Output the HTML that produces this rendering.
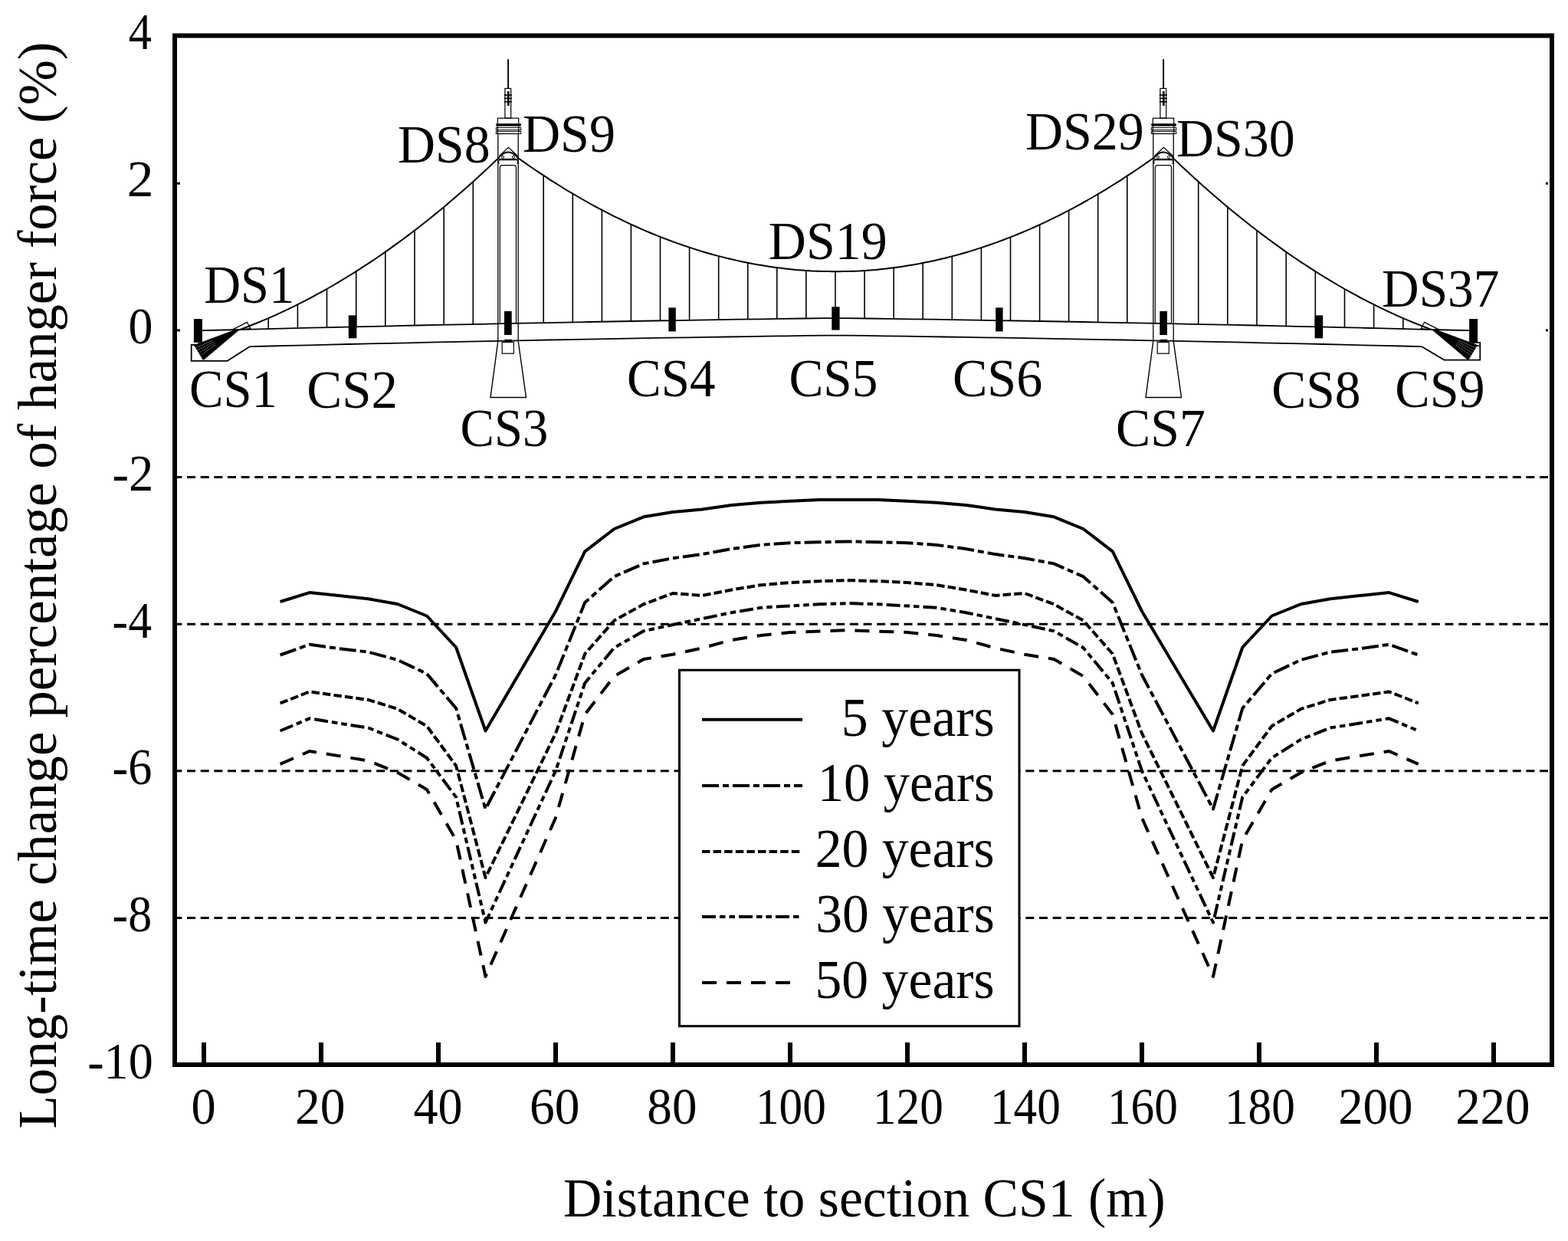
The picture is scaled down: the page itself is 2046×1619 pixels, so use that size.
<!DOCTYPE html>
<html><head><meta charset="utf-8"><title>Long-time change percentage of hanger force</title>
<style>html,body{margin:0;padding:0;background:#fff;width:2046px;height:1619px;overflow:hidden}</style>
</head><body>
<svg width="2046" height="1619" viewBox="0 0 2046 1619" style="position:absolute;left:0;top:0">
<rect x="0" y="0" width="2046" height="1619" fill="#fff"/>
<g font-family='"Liberation Serif", "Times New Roman", serif' fill="#000">
<line x1="226.4" y1="622.54" x2="2020" y2="622.54" stroke="#000" stroke-width="3" stroke-dasharray="11 6.65" stroke-dashoffset="0"/>
<line x1="226.4" y1="814.18" x2="2020" y2="814.18" stroke="#000" stroke-width="3" stroke-dasharray="11 6.65" stroke-dashoffset="0"/>
<line x1="226.4" y1="1005.82" x2="2020" y2="1005.82" stroke="#000" stroke-width="3" stroke-dasharray="11 6.65" stroke-dashoffset="0"/>
<line x1="226.4" y1="1197.46" x2="2020" y2="1197.46" stroke="#000" stroke-width="3" stroke-dasharray="11 6.65" stroke-dashoffset="0"/>
<rect x="231" y="237.76" width="4" height="3" fill="#000"/>
<rect x="2017" y="237.76" width="3" height="3" fill="#000"/>
<rect x="231" y="429.40" width="4" height="3" fill="#000"/>
<rect x="2017" y="429.40" width="3" height="3" fill="#000"/>
<rect x="228" y="46.5" width="1797" height="1342.5" fill="none" stroke="#000" stroke-width="6"/>
<rect x="263.00" y="1360" width="6" height="28" fill="#000"/>
<rect x="416.00" y="1360" width="6" height="28" fill="#000"/>
<rect x="569.00" y="1360" width="6" height="28" fill="#000"/>
<rect x="722.00" y="1360" width="6" height="28" fill="#000"/>
<rect x="875.00" y="1360" width="6" height="28" fill="#000"/>
<rect x="1028.00" y="1360" width="6" height="28" fill="#000"/>
<rect x="1181.00" y="1360" width="6" height="28" fill="#000"/>
<rect x="1334.00" y="1360" width="6" height="28" fill="#000"/>
<rect x="1487.00" y="1360" width="6" height="28" fill="#000"/>
<rect x="1640.00" y="1360" width="6" height="28" fill="#000"/>
<rect x="1793.00" y="1360" width="6" height="28" fill="#000"/>
<rect x="1946.00" y="1360" width="6" height="28" fill="#000"/>
<text x="167.79" y="64.10" font-size="67" textLength="30.17" lengthAdjust="spacingAndGlyphs" >4</text>
<text x="165.84" y="255.90" font-size="67" textLength="34.79" lengthAdjust="spacingAndGlyphs" >2</text>
<text x="167.47" y="448.20" font-size="67" textLength="31.96" lengthAdjust="spacingAndGlyphs" >0</text>
<text x="146.51" y="639.90" font-size="67" textLength="53.85" lengthAdjust="spacingAndGlyphs" >-2</text>
<text x="146.62" y="831.50" font-size="67" textLength="51.37" lengthAdjust="spacingAndGlyphs" >-4</text>
<text x="146.60" y="1023.10" font-size="67" textLength="51.87" lengthAdjust="spacingAndGlyphs" >-6</text>
<text x="146.61" y="1215.20" font-size="67" textLength="51.54" lengthAdjust="spacingAndGlyphs" >-8</text>
<text x="114.23" y="1407.20" font-size="67" textLength="85.51" lengthAdjust="spacingAndGlyphs" >-10</text>
<text x="249.40" y="1466.20" font-size="67" textLength="32.19" lengthAdjust="spacingAndGlyphs" >0</text>
<text x="384.91" y="1466.20" font-size="67" textLength="65.58" lengthAdjust="spacingAndGlyphs" >20</text>
<text x="539.52" y="1466.20" font-size="67" textLength="63.91" lengthAdjust="spacingAndGlyphs" >40</text>
<text x="690.98" y="1466.20" font-size="67" textLength="65.51" lengthAdjust="spacingAndGlyphs" >60</text>
<text x="844.32" y="1466.20" font-size="67" textLength="65.15" lengthAdjust="spacingAndGlyphs" >80</text>
<text x="985.91" y="1466.20" font-size="67" textLength="91.92" lengthAdjust="spacingAndGlyphs" >100</text>
<text x="1138.91" y="1466.20" font-size="67" textLength="91.92" lengthAdjust="spacingAndGlyphs" >120</text>
<text x="1291.91" y="1466.20" font-size="67" textLength="91.92" lengthAdjust="spacingAndGlyphs" >140</text>
<text x="1444.91" y="1466.20" font-size="67" textLength="91.92" lengthAdjust="spacingAndGlyphs" >160</text>
<text x="1597.91" y="1466.20" font-size="67" textLength="91.92" lengthAdjust="spacingAndGlyphs" >180</text>
<text x="1746.15" y="1466.20" font-size="67" textLength="97.32" lengthAdjust="spacingAndGlyphs" >200</text>
<text x="1899.15" y="1466.20" font-size="67" textLength="97.32" lengthAdjust="spacingAndGlyphs" >220</text>
<text x="734.98" y="1586.70" font-size="72.6" textLength="785.68" lengthAdjust="spacingAndGlyphs" >Distance to section CS1 (m)</text>
<text transform="translate(72.9 1472.46) rotate(-90)" x="0" y="0" font-size="72" textLength="1417.90" lengthAdjust="spacingAndGlyphs">Long-time change percentage of hanger force (%)</text>
<g stroke="#000" fill="none" stroke-linecap="butt">
<polyline stroke-width="1.8" points="264.0,431.2 292.0,430.5 320.0,429.8 348.1,429.1 376.1,428.4 404.1,427.7 432.1,427.1 460.1,426.4 488.1,425.8 516.2,425.2 544.2,424.5 572.2,423.9 600.2,423.3 628.2,422.8 656.2,422.2 684.3,421.6 712.3,421.1 740.3,420.6 768.3,420.0 796.3,419.5 824.3,419.0 852.4,418.5 880.4,418.1 908.4,417.6 936.4,417.2 964.4,416.7 992.4,416.3 1020.5,415.9 1048.5,415.5 1076.5,415.1 1104.5,415.1 1132.5,415.5 1160.5,415.9 1188.6,416.3 1216.6,416.7 1244.6,417.2 1272.6,417.6 1300.6,418.1 1328.6,418.5 1356.7,419.0 1384.7,419.5 1412.7,420.0 1440.7,420.6 1468.7,421.1 1496.7,421.6 1524.8,422.2 1552.8,422.8 1580.8,423.3 1608.8,423.9 1636.8,424.5 1664.8,425.2 1692.9,425.8 1720.9,426.4 1748.9,427.1 1776.9,427.7 1804.9,428.4 1832.9,429.1 1861.0,429.8 1889.0,430.5 1917.0,431.2"/>
<polyline stroke-width="1.8" points="325.7,452.2 351.6,451.5 377.6,450.9 403.5,450.3 429.4,449.6 455.3,449.0 481.3,448.4 507.2,447.9 533.1,447.3 559.0,446.7 585.0,446.2 610.9,445.6 636.8,445.1 662.7,444.6 688.7,444.1 714.6,443.5 740.5,443.1 766.4,442.6 792.4,442.1 818.3,441.6 844.2,441.2 870.1,440.7 896.1,440.3 922.0,439.9 947.9,439.5 973.8,439.1 999.8,438.7 1025.7,438.3 1051.6,437.9 1077.5,437.6 1103.5,437.6 1129.4,437.9 1155.3,438.3 1181.2,438.7 1207.2,439.1 1233.1,439.5 1259.0,439.9 1284.9,440.3 1310.9,440.7 1336.8,441.2 1362.7,441.6 1388.6,442.1 1414.6,442.6 1440.5,443.1 1466.4,443.5 1492.3,444.1 1518.3,444.6 1544.2,445.1 1570.1,445.6 1596.0,446.2 1622.0,446.7 1647.9,447.3 1673.8,447.9 1699.7,448.4 1725.7,449.0 1751.6,449.6 1777.5,450.3 1803.4,450.9 1829.4,451.5 1855.3,452.2"/>
<polyline stroke-width="1.8" points="259.5,449.8 249.7,449.8 249.7,470.8 296.6,470.8 325.7,452.2"/>
<polygon fill="#000" stroke="#000" stroke-width="0.8" points="253.4,450.3 306.4,430.6 312.0,430.3 265.2,469.8"/>
<line x1="255.5" y1="453.8" x2="278.0" y2="444.0" stroke="#fff" stroke-width="0.7" stroke-dasharray="1.2 1.3"/>
<line x1="257.5" y1="457.1" x2="279.1" y2="445.9" stroke="#fff" stroke-width="0.7" stroke-dasharray="1.2 1.3"/>
<line x1="259.5" y1="460.4" x2="280.3" y2="447.9" stroke="#fff" stroke-width="0.7" stroke-dasharray="1.2 1.3"/>
<line x1="261.5" y1="463.8" x2="281.5" y2="449.8" stroke="#fff" stroke-width="0.7" stroke-dasharray="1.2 1.3"/>
<line x1="259.3" y1="446" x2="259.3" y2="450" stroke-width="1"/>
<polygon stroke-width="1.3" points="302.7,430.3 322.4,420.3 326.8,428.6 309.0,430.5"/>
<line x1="1930.5" y1="451" x2="1927.0" y2="451" stroke-width="1.6"/>
<polyline stroke-width="1.8" points="1921.5,446.8 1931.3,446.8 1931.3,469.6 1884.4,469.6 1855.3,452.2"/>
<polygon fill="#000" stroke="#000" stroke-width="0.8" points="1927.6,450.3 1874.6,430.6 1869.0,430.3 1915.8,469.8"/>
<line x1="1925.5" y1="453.8" x2="1903.0" y2="444.0" stroke="#fff" stroke-width="0.7" stroke-dasharray="1.2 1.3"/>
<line x1="1923.5" y1="457.1" x2="1901.9" y2="445.9" stroke="#fff" stroke-width="0.7" stroke-dasharray="1.2 1.3"/>
<line x1="1921.5" y1="460.4" x2="1900.7" y2="447.9" stroke="#fff" stroke-width="0.7" stroke-dasharray="1.2 1.3"/>
<line x1="1919.5" y1="463.8" x2="1899.5" y2="449.8" stroke="#fff" stroke-width="0.7" stroke-dasharray="1.2 1.3"/>
<line x1="1921.7" y1="446" x2="1921.7" y2="450" stroke-width="1"/>
<polygon stroke-width="1.3" points="1878.3,430.3 1858.6,420.3 1854.2,428.6 1872.0,430.5"/>
<polyline stroke-width="2" points="309.0,431.4 316.0,428.9 322.9,426.2 329.9,423.5 336.9,420.7 343.8,417.8 350.8,414.8 357.7,411.8 364.7,408.6 371.7,405.4 378.6,402.1 385.6,398.7 392.6,395.2 399.5,391.6 406.5,388.0 413.4,384.2 420.4,380.4 427.4,376.5 434.3,372.5 441.3,368.4 448.3,364.2 455.2,360.0 462.2,355.7 469.2,351.2 476.1,346.7 483.1,342.1 490.0,337.5 497.0,332.7 504.0,327.9 510.9,322.9 517.9,317.9 524.9,312.8 531.8,307.6 538.8,302.3 545.8,297.0 552.7,291.5 559.7,286.0 566.6,280.4 573.6,274.7 580.6,268.9 587.5,263.0 594.5,257.1 601.5,251.1 608.4,244.9 615.4,238.7 622.3,232.4 629.3,226.0 636.3,219.6 643.2,213.0 650.2,206.4"/>
<polyline stroke-width="2" points="1872.0,431.4 1865.0,428.9 1858.1,426.2 1851.1,423.5 1844.1,420.7 1837.2,417.8 1830.2,414.8 1823.3,411.8 1816.3,408.6 1809.3,405.4 1802.4,402.1 1795.4,398.7 1788.4,395.2 1781.5,391.6 1774.5,388.0 1767.6,384.2 1760.6,380.4 1753.6,376.5 1746.7,372.5 1739.7,368.4 1732.7,364.2 1725.8,360.0 1718.8,355.7 1711.8,351.2 1704.9,346.7 1697.9,342.1 1691.0,337.5 1684.0,332.7 1677.0,327.9 1670.1,322.9 1663.1,317.9 1656.1,312.8 1649.2,307.6 1642.2,302.3 1635.2,297.0 1628.3,291.5 1621.3,286.0 1614.4,280.4 1607.4,274.7 1600.4,268.9 1593.5,263.0 1586.5,257.1 1579.5,251.1 1572.6,244.9 1565.6,238.7 1558.7,232.4 1551.7,226.0 1544.7,219.6 1537.8,213.0 1530.8,206.4"/>
<polyline stroke-width="2" points="676.5,206.5 683.5,211.4 690.4,216.2 697.4,221.0 704.3,225.7 711.3,230.2 718.2,234.8 725.2,239.2 732.2,243.5 739.1,247.8 746.1,251.9 753.0,256.0 760.0,260.0 767.0,264.0 773.9,267.8 780.9,271.6 787.8,275.2 794.8,278.8 801.7,282.3 808.7,285.7 815.7,289.1 822.6,292.3 829.6,295.5 836.5,298.6 843.5,301.6 850.4,304.5 857.4,307.4 864.4,310.1 871.3,312.8 878.3,315.4 885.2,317.9 892.2,320.3 899.2,322.6 906.1,324.9 913.1,327.1 920.0,329.2 927.0,331.2 933.9,333.1 940.9,334.9 947.9,336.7 954.8,338.3 961.8,339.9 968.7,341.4 975.7,342.8 982.7,344.2 989.6,345.4 996.6,346.6 1003.5,347.7 1010.5,348.7 1017.4,349.6 1024.4,350.4 1031.4,351.2 1038.3,351.9 1045.3,352.4 1052.2,352.9 1059.2,353.4 1066.1,353.7 1073.1,353.9 1080.1,354.1 1087.0,354.2 1094.0,354.2 1100.9,354.1 1107.9,353.9 1114.9,353.7 1121.8,353.4 1128.8,352.9 1135.7,352.4 1142.7,351.9 1149.6,351.2 1156.6,350.4 1163.6,349.6 1170.5,348.7 1177.5,347.7 1184.4,346.6 1191.4,345.4 1198.3,344.2 1205.3,342.8 1212.3,341.4 1219.2,339.9 1226.2,338.3 1233.1,336.7 1240.1,334.9 1247.1,333.1 1254.0,331.2 1261.0,329.2 1267.9,327.1 1274.9,324.9 1281.8,322.6 1288.8,320.3 1295.8,317.9 1302.7,315.4 1309.7,312.8 1316.6,310.1 1323.6,307.4 1330.6,304.5 1337.5,301.6 1344.5,298.6 1351.4,295.5 1358.4,292.3 1365.3,289.1 1372.3,285.7 1379.3,282.3 1386.2,278.8 1393.2,275.2 1400.1,271.6 1407.1,267.8 1414.0,264.0 1421.0,260.0 1428.0,256.0 1434.9,251.9 1441.9,247.8 1448.8,243.5 1455.8,239.2 1462.8,234.8 1469.7,230.2 1476.7,225.7 1483.6,221.0 1490.6,216.2 1497.5,211.4 1504.5,206.5"/>
<line x1="350.2" y1="415.1" x2="350.2" y2="429.1" stroke-width="1.6"/>
<line x1="1830.8" y1="415.1" x2="1830.8" y2="429.1" stroke-width="1.6"/>
<line x1="388.4" y1="397.3" x2="388.4" y2="428.1" stroke-width="1.6"/>
<line x1="1792.6" y1="397.3" x2="1792.6" y2="428.1" stroke-width="1.6"/>
<line x1="426.5" y1="377.0" x2="426.5" y2="427.2" stroke-width="1.6"/>
<line x1="1754.5" y1="377.0" x2="1754.5" y2="427.2" stroke-width="1.6"/>
<line x1="464.7" y1="354.1" x2="464.7" y2="426.3" stroke-width="1.6"/>
<line x1="1716.3" y1="354.1" x2="1716.3" y2="426.3" stroke-width="1.6"/>
<line x1="502.8" y1="328.6" x2="502.8" y2="425.5" stroke-width="1.6"/>
<line x1="1678.2" y1="328.6" x2="1678.2" y2="425.5" stroke-width="1.6"/>
<line x1="541.0" y1="300.6" x2="541.0" y2="424.6" stroke-width="1.6"/>
<line x1="1640.0" y1="300.6" x2="1640.0" y2="424.6" stroke-width="1.6"/>
<line x1="579.2" y1="270.1" x2="579.2" y2="423.8" stroke-width="1.6"/>
<line x1="1601.8" y1="270.1" x2="1601.8" y2="423.8" stroke-width="1.6"/>
<line x1="617.3" y1="237.0" x2="617.3" y2="423.0" stroke-width="1.6"/>
<line x1="1563.7" y1="237.0" x2="1563.7" y2="423.0" stroke-width="1.6"/>
<line x1="709.2" y1="228.9" x2="709.2" y2="421.2" stroke-width="1.6"/>
<line x1="747.3" y1="252.7" x2="747.3" y2="420.4" stroke-width="1.6"/>
<line x1="785.4" y1="273.9" x2="785.4" y2="419.7" stroke-width="1.6"/>
<line x1="823.4" y1="292.7" x2="823.4" y2="419.0" stroke-width="1.6"/>
<line x1="861.5" y1="309.0" x2="861.5" y2="418.4" stroke-width="1.6"/>
<line x1="899.6" y1="322.8" x2="899.6" y2="417.8" stroke-width="1.6"/>
<line x1="937.7" y1="334.1" x2="937.7" y2="417.1" stroke-width="1.6"/>
<line x1="975.8" y1="342.9" x2="975.8" y2="416.5" stroke-width="1.6"/>
<line x1="1013.8" y1="349.1" x2="1013.8" y2="416.0" stroke-width="1.6"/>
<line x1="1051.9" y1="352.9" x2="1051.9" y2="415.4" stroke-width="1.6"/>
<line x1="1090.0" y1="354.2" x2="1090.0" y2="414.9" stroke-width="1.6"/>
<line x1="1128.1" y1="353.0" x2="1128.1" y2="415.4" stroke-width="1.6"/>
<line x1="1166.2" y1="349.3" x2="1166.2" y2="416.0" stroke-width="1.6"/>
<line x1="1204.2" y1="343.0" x2="1204.2" y2="416.5" stroke-width="1.6"/>
<line x1="1242.3" y1="334.3" x2="1242.3" y2="417.1" stroke-width="1.6"/>
<line x1="1280.4" y1="323.1" x2="1280.4" y2="417.7" stroke-width="1.6"/>
<line x1="1318.5" y1="309.4" x2="1318.5" y2="418.4" stroke-width="1.6"/>
<line x1="1356.6" y1="293.2" x2="1356.6" y2="419.0" stroke-width="1.6"/>
<line x1="1394.6" y1="274.5" x2="1394.6" y2="419.7" stroke-width="1.6"/>
<line x1="1432.7" y1="253.2" x2="1432.7" y2="420.4" stroke-width="1.6"/>
<line x1="1470.8" y1="229.5" x2="1470.8" y2="421.1" stroke-width="1.6"/>
<path stroke-width="2" d="M 649.8 206.8 Q 663.0 190.5 676.5 206.5"/>
<polyline stroke-width="1.3" points="651.5,203.5 663.4,192.3 675.5,203.5"/>
<circle cx="656.0" cy="204.8" r="1.6" stroke-width="1"/>
<circle cx="670.0" cy="204.8" r="1.6" stroke-width="1"/>
<line x1="663.1" y1="77.2" x2="663.1" y2="115" stroke-width="1.9"/>
<rect x="658.9" y="115.4" width="7.8" height="38.8" stroke-width="1.2"/>
<rect x="662.0" y="119" width="2.7" height="19" fill="#000" stroke="none"/>
<rect x="657.8" y="123.2" width="10" height="1.6" fill="#000" stroke="none"/>
<rect x="657.8" y="127.6" width="10" height="1.6" fill="#000" stroke="none"/>
<rect x="657.8" y="132.0" width="10" height="1.6" fill="#000" stroke="none"/>
<rect x="649.3" y="154.2" width="27.4" height="20.3" stroke-width="1.2"/>
<rect x="647.3" y="161.2" width="32.5" height="3.4" fill="#000" stroke="none"/>
<rect x="647.3" y="166.6" width="32.5" height="3" stroke-width="1"/>
<rect x="647.3" y="171.4" width="32.5" height="3" stroke-width="1"/>
<line x1="649.8" y1="174.5" x2="649.8" y2="445" stroke-width="1.3"/>
<line x1="676.2" y1="174.5" x2="676.2" y2="445" stroke-width="1.3"/>
<line x1="649.8" y1="207.4" x2="676.2" y2="207.4" stroke-width="1.1"/>
<path stroke-width="1.1" d="M 650.8 214 L 650.8 210.5 Q 650.8 208.6 652.8 208.6 L 673.4 208.6 Q 675.4 208.6 675.4 210.5 L 675.4 214"/>
<path stroke-width="1.2" d="M 652.3 421.1 L 652.3 219 Q 652.3 215.7 655.3 215.7 L 670.5 215.7 Q 673.5 215.7 673.5 219 L 673.5 421.1"/>
<polyline stroke-width="1.4" points="649.8,445 640.0,518.5 686.5,518.5 676.2,445"/>
<rect x="655.2" y="446.5" width="15.1" height="14.7" stroke-width="1.2"/>
<rect x="658.4" y="442.8" width="9.7" height="3.4" fill="#000" stroke="none"/>
<path stroke-width="2" d="M 1504.8 206.8 Q 1518.0 190.5 1531.5 206.5"/>
<polyline stroke-width="1.3" points="1506.5,203.5 1518.4,192.3 1530.5,203.5"/>
<circle cx="1511.0" cy="204.8" r="1.6" stroke-width="1"/>
<circle cx="1525.0" cy="204.8" r="1.6" stroke-width="1"/>
<line x1="1518.1" y1="77.2" x2="1518.1" y2="115" stroke-width="1.9"/>
<rect x="1513.9" y="115.4" width="7.8" height="38.8" stroke-width="1.2"/>
<rect x="1517.0" y="119" width="2.7" height="19" fill="#000" stroke="none"/>
<rect x="1512.8" y="123.2" width="10" height="1.6" fill="#000" stroke="none"/>
<rect x="1512.8" y="127.6" width="10" height="1.6" fill="#000" stroke="none"/>
<rect x="1512.8" y="132.0" width="10" height="1.6" fill="#000" stroke="none"/>
<rect x="1504.3" y="154.2" width="27.4" height="20.3" stroke-width="1.2"/>
<rect x="1502.3" y="161.2" width="32.5" height="3.4" fill="#000" stroke="none"/>
<rect x="1502.3" y="166.6" width="32.5" height="3" stroke-width="1"/>
<rect x="1502.3" y="171.4" width="32.5" height="3" stroke-width="1"/>
<line x1="1504.8" y1="174.5" x2="1504.8" y2="445" stroke-width="1.3"/>
<line x1="1531.2" y1="174.5" x2="1531.2" y2="445" stroke-width="1.3"/>
<line x1="1504.8" y1="207.4" x2="1531.2" y2="207.4" stroke-width="1.1"/>
<path stroke-width="1.1" d="M 1505.8 214 L 1505.8 210.5 Q 1505.8 208.6 1507.8 208.6 L 1528.4 208.6 Q 1530.4 208.6 1530.4 210.5 L 1530.4 214"/>
<path stroke-width="1.2" d="M 1507.3 421.1 L 1507.3 219 Q 1507.3 215.7 1510.3 215.7 L 1525.5 215.7 Q 1528.5 215.7 1528.5 219 L 1528.5 421.1"/>
<polyline stroke-width="1.4" points="1504.8,445 1495.0,518.5 1541.5,518.5 1531.2,445"/>
<rect x="1510.2" y="446.5" width="15.1" height="14.7" stroke-width="1.2"/>
<rect x="1513.4" y="442.8" width="9.7" height="3.4" fill="#000" stroke="none"/>
</g>
<rect x="252.9" y="416.0" width="11.0" height="30.8" fill="#000"/>
<rect x="1917.1" y="416.0" width="11.0" height="30.8" fill="#000"/>
<rect x="454.8" y="411.4" width="10.6" height="29.9" fill="#000"/>
<rect x="1715.6" y="411.4" width="10.6" height="29.9" fill="#000"/>
<rect x="658.0" y="406.0" width="9.7" height="31.0" fill="#000"/>
<rect x="1513.3" y="406.0" width="9.7" height="31.0" fill="#000"/>
<rect x="872.4" y="401.4" width="9.4" height="31.0" fill="#000"/>
<rect x="1299.2" y="401.4" width="9.4" height="31.0" fill="#000"/>
<rect x="1085.3" y="400.3" width="10.3" height="30.3" fill="#000"/>
<text x="266.18" y="394.70" font-size="69" textLength="117.92" lengthAdjust="spacingAndGlyphs" >DS1</text>
<text x="518.88" y="212.00" font-size="69" textLength="120.72" lengthAdjust="spacingAndGlyphs" >DS8</text>
<text x="681.92" y="198.00" font-size="69" textLength="121.19" lengthAdjust="spacingAndGlyphs" >DS9</text>
<text x="1002.83" y="337.90" font-size="69" textLength="154.98" lengthAdjust="spacingAndGlyphs" >DS19</text>
<text x="1337.93" y="194.60" font-size="69" textLength="154.88" lengthAdjust="spacingAndGlyphs" >DS29</text>
<text x="1535.03" y="203.70" font-size="69" textLength="154.67" lengthAdjust="spacingAndGlyphs" >DS30</text>
<text x="1803.05" y="400.20" font-size="69" textLength="153.33" lengthAdjust="spacingAndGlyphs" >DS37</text>
<text x="247.12" y="531.20" font-size="69" textLength="114.79" lengthAdjust="spacingAndGlyphs" >CS1</text>
<text x="400.17" y="531.80" font-size="69" textLength="118.83" lengthAdjust="spacingAndGlyphs" >CS2</text>
<text x="600.57" y="581.60" font-size="69" textLength="114.84" lengthAdjust="spacingAndGlyphs" >CS3</text>
<text x="817.95" y="516.80" font-size="69" textLength="115.53" lengthAdjust="spacingAndGlyphs" >CS4</text>
<text x="1029.44" y="516.80" font-size="69" textLength="116.00" lengthAdjust="spacingAndGlyphs" >CS5</text>
<text x="1242.91" y="516.80" font-size="69" textLength="117.35" lengthAdjust="spacingAndGlyphs" >CS6</text>
<text x="1456.12" y="582.20" font-size="69" textLength="116.75" lengthAdjust="spacingAndGlyphs" >CS7</text>
<text x="1659.13" y="531.80" font-size="69" textLength="116.34" lengthAdjust="spacingAndGlyphs" >CS8</text>
<text x="1820.21" y="531.20" font-size="69" textLength="117.40" lengthAdjust="spacingAndGlyphs" >CS9</text>
<polyline fill="none" stroke="#000" stroke-width="4" stroke-linejoin="round" points="365.60,785.00 403.90,773.10 442.10,777.10 480.40,781.20 518.60,788.00 556.90,803.50 595.10,844.50 633.50,953.50 725.00,797.50 763.25,719.40 801.50,690.00 839.75,674.30 878.00,668.00 916.25,664.40 954.50,659.00 992.75,655.70 1031.00,653.70 1069.25,652.00 1107.50,652.00 1145.75,652.00 1184.00,653.70 1222.25,655.70 1260.50,659.00 1298.75,664.40 1337.00,668.00 1375.25,674.30 1413.50,690.00 1451.75,719.40 1490.00,797.50 1583.00,953.50 1621.25,844.50 1659.50,803.50 1697.75,788.00 1736.00,781.20 1774.25,777.10 1812.50,773.10 1850.75,785.00"/>
<polyline fill="none" stroke="#000" stroke-width="4" stroke-linejoin="round" stroke-dasharray="22 5 8 5" points="365.60,854.50 403.90,840.80 442.10,846.20 480.40,850.60 518.60,860.80 556.90,878.90 595.10,924.00 633.50,1055.50 725.00,880.50 763.25,786.00 801.50,752.20 839.75,735.40 878.00,728.20 916.25,723.10 954.50,716.10 992.75,710.90 1031.00,708.20 1069.25,707.30 1107.50,706.40 1145.75,707.30 1184.00,708.20 1222.25,710.90 1260.50,716.10 1298.75,723.10 1337.00,728.20 1375.25,735.40 1413.50,752.20 1451.75,786.00 1490.00,880.50 1583.00,1055.50 1621.25,924.00 1659.50,878.90 1697.75,860.80 1736.00,850.60 1774.25,846.20 1812.50,840.80 1850.75,854.50"/>
<polyline fill="none" stroke="#000" stroke-width="4" stroke-linejoin="round" stroke-dasharray="10.5 4.1" points="365.60,917.40 403.90,902.40 442.10,907.80 480.40,912.90 518.60,924.80 556.90,947.20 595.10,999.00 633.50,1145.00 725.00,956.70 763.25,853.00 801.50,809.50 839.75,788.30 878.00,774.00 916.25,776.90 954.50,769.50 992.75,763.20 1031.00,760.00 1069.25,758.20 1107.50,757.10 1145.75,758.20 1184.00,760.00 1222.25,763.20 1260.50,769.50 1298.75,776.90 1337.00,774.00 1375.25,788.30 1413.50,809.50 1451.75,853.00 1490.00,956.70 1583.00,1145.00 1621.25,999.00 1659.50,947.20 1697.75,924.80 1736.00,912.90 1774.25,907.80 1812.50,902.40 1850.75,917.40"/>
<polyline fill="none" stroke="#000" stroke-width="4" stroke-linejoin="round" stroke-dasharray="18 5 7.5 5 7.5 5" points="365.60,953.50 403.90,937.30 442.10,943.50 480.40,949.50 518.60,964.50 556.90,988.70 595.10,1040.00 633.50,1203.50 725.00,1005.70 763.25,891.00 801.50,845.00 839.75,823.30 878.00,815.00 916.25,807.10 954.50,799.20 992.75,792.80 1031.00,790.40 1069.25,788.30 1107.50,787.00 1145.75,788.30 1184.00,790.40 1222.25,792.80 1260.50,799.20 1298.75,807.10 1337.00,815.00 1375.25,823.30 1413.50,845.00 1451.75,891.00 1490.00,1005.70 1583.00,1203.50 1621.25,1040.00 1659.50,988.70 1697.75,964.50 1736.00,949.50 1774.25,943.50 1812.50,937.30 1850.75,953.50"/>
<polyline fill="none" stroke="#000" stroke-width="4" stroke-linejoin="round" stroke-dasharray="19 13" points="365.60,996.90 403.90,980.00 442.10,986.10 480.40,992.50 518.60,1007.80 556.90,1030.00 595.10,1096.00 633.50,1274.00 725.00,1067.00 763.25,932.00 801.50,882.20 839.75,860.00 878.00,853.80 916.25,845.50 954.50,834.90 992.75,829.00 1031.00,825.00 1069.25,823.60 1107.50,822.10 1145.75,823.60 1184.00,825.00 1222.25,829.00 1260.50,834.90 1298.75,845.50 1337.00,853.80 1375.25,860.00 1413.50,882.20 1451.75,932.00 1490.00,1067.00 1583.00,1274.00 1621.25,1096.00 1659.50,1030.00 1697.75,1007.80 1736.00,992.50 1774.25,986.10 1812.50,980.00 1850.75,996.90"/>
<rect x="886.5" y="874.2" width="443.5" height="464.5" fill="#fff" stroke="#000" stroke-width="3"/>
<line x1="916" y1="938.7" x2="1047" y2="938.7" stroke="#000" stroke-width="4"/>
<text x="1097.74" y="959.60" font-size="71.5" textLength="199.96" lengthAdjust="spacingAndGlyphs" >5 years</text>
<line x1="916" y1="1025" x2="1047" y2="1025" stroke="#000" stroke-width="4" stroke-dasharray="22 5 8 5"/>
<text x="1066.75" y="1045.30" font-size="71.5" textLength="230.91" lengthAdjust="spacingAndGlyphs" >10 years</text>
<line x1="916" y1="1111" x2="1047" y2="1111" stroke="#000" stroke-width="4" stroke-dasharray="10.5 4.1"/>
<text x="1063.63" y="1130.60" font-size="71.5" textLength="234.06" lengthAdjust="spacingAndGlyphs" >20 years</text>
<line x1="916" y1="1196" x2="1047" y2="1196" stroke="#000" stroke-width="4" stroke-dasharray="18 5 7.5 5 7.5 5"/>
<text x="1064.16" y="1216.20" font-size="71.5" textLength="233.53" lengthAdjust="spacingAndGlyphs" >30 years</text>
<line x1="916" y1="1282" x2="1043" y2="1282" stroke="#000" stroke-width="4" stroke-dasharray="19 13"/>
<text x="1063.46" y="1302.20" font-size="71.5" textLength="234.24" lengthAdjust="spacingAndGlyphs" >50 years</text>
</g></svg>
</body></html>
